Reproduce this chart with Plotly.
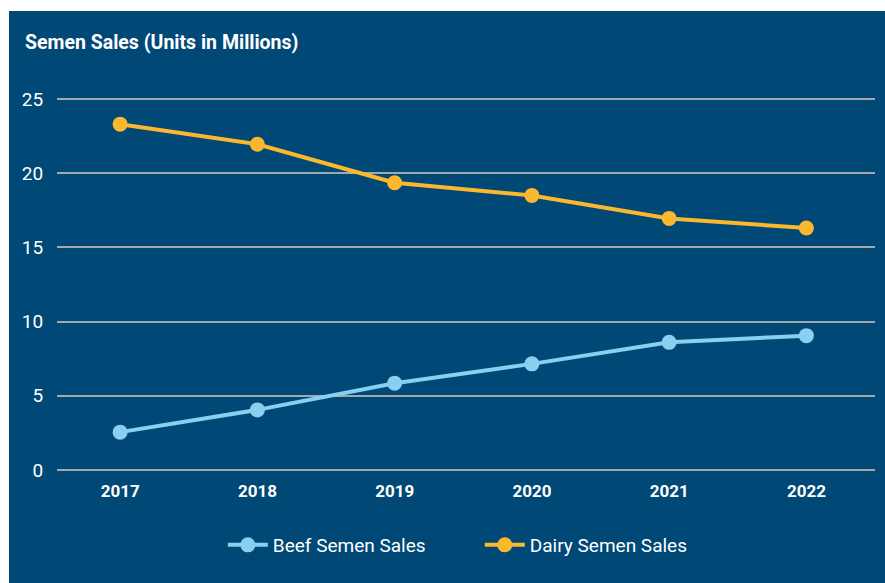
import plotly.graph_objects as go

years = ["2017", "2018", "2019", "2020", "2021", "2022"]
beef = [2.55, 4.05, 5.85, 7.15, 8.6, 9.05]
dairy = [23.3, 21.95, 19.35, 18.5, 16.95, 16.3]
y_ticks = [0, 5, 10, 15, 20, 25]

BG = "#004876"
GRID = "#a3a8ad"
BEEF_C = "#89cff0"
DAIRY_C = "#fbb82f"

W, H = 885, 583
L, R, T, B = 57, 10, 97, 113
pw, ph = W - L - R, H - T - B

def px(x):
    return (x - L) / pw

def py(y):
    return (H - B - y) / ph

fig = go.Figure()
fig.add_trace(go.Scatter(x=years, y=beef, mode="lines+markers", name="Beef Semen Sales",
                         line=dict(color=BEEF_C, width=4), marker=dict(size=15, color=BEEF_C)))
fig.add_trace(go.Scatter(x=years, y=dairy, mode="lines+markers", name="Dairy Semen Sales",
                         line=dict(color=DAIRY_C, width=4), marker=dict(size=15, color=DAIRY_C)))

fig.add_shape(type="rect", xref="paper", yref="paper", x0=px(9), x1=px(890), y0=py(590), y1=py(11),
              fillcolor=BG, line=dict(width=0), layer="below")

fig.update_layout(
    width=W, height=H,
    margin=dict(l=L, r=R, t=T, b=B),
    paper_bgcolor="white", plot_bgcolor=BG,
    font=dict(family="Roboto, Arial, sans-serif", color="white"),
    title=dict(text="<b>Semen Sales (Units in Millions)</b>", x=25 / W, xref="container", xanchor="left",
               y=1 - 42 / H, yref="container", yanchor="middle", font=dict(size=19.5, color="white")),
    showlegend=True,
    legend=dict(orientation="h", x=px(231) - 0.01, xanchor="left", y=py(545), yanchor="middle",
                font=dict(size=19, color="white"), bgcolor="rgba(0,0,0,0)", itemwidth=40,
                entrywidth=202, tracegroupgap=0),
    xaxis=dict(type="category", range=[-0.46, 5.5], showgrid=False, zeroline=False, showline=False,
               ticks="outside", ticklen=6, tickcolor="rgba(0,0,0,0)",
               tickfont=dict(size=17, color="white", family="Roboto, Arial, sans-serif", weight="bold")),
    yaxis=dict(range=[0, 25.13], tickvals=y_ticks, showgrid=True, gridcolor=GRID, gridwidth=2,
               zeroline=True, zerolinecolor=GRID, zerolinewidth=2, showline=False,
               ticks="outside", ticklen=9, tickcolor="rgba(0,0,0,0)",
               tickfont=dict(size=19, color="white")),
)

fig.write_html("out.html")
